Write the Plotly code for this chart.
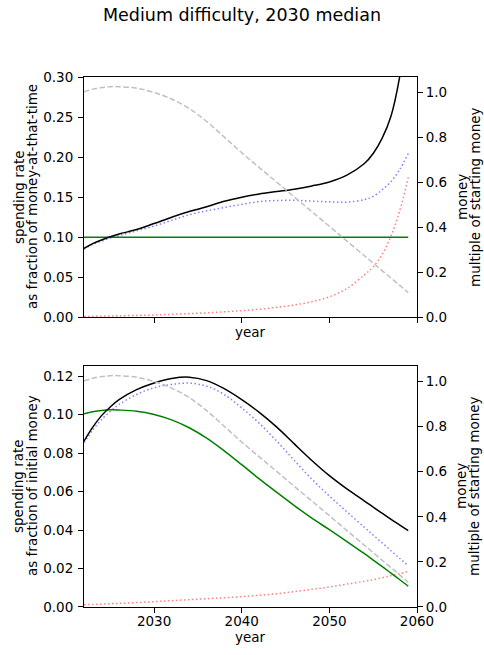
import plotly.graph_objects as go

# sample years shared by every curve
years = [2022, 2023, 2024, 2025, 2026, 2028, 2030, 2032, 2034, 2036, 2038,
         2040, 2042, 2044, 2046, 2048, 2050, 2052, 2054, 2055, 2056, 2057, 2058, 2059]

# top panel: spending rate as fraction of money-at-that-time
rate_total = [0.086, 0.092, 0.0965, 0.1005, 0.104, 0.1095, 0.117, 0.125, 0.132, 0.138, 0.145,
              0.150, 0.154, 0.157, 0.160, 0.164, 0.169, 0.1775, 0.192, 0.2045, 0.223, 0.250, 0.299, 0.381]
rate_blue = [0.085, 0.091, 0.095, 0.099, 0.102, 0.108, 0.114, 0.121, 0.128, 0.133, 0.137,
             0.141, 0.1445, 0.1458, 0.146, 0.145, 0.1442, 0.1438, 0.147, 0.151, 0.159, 0.169, 0.184, 0.2045]
rate_red = [0.001, 0.0012, 0.0014, 0.0016, 0.0019, 0.0024, 0.003, 0.0037, 0.0046, 0.0056, 0.0068,
            0.0083, 0.010, 0.0125, 0.0154, 0.0195, 0.0255, 0.036, 0.053, 0.063, 0.078, 0.1006, 0.132, 0.1746]
green_years = [2022, 2059]
rate_green = [0.1, 0.1]

# money, multiple of starting money (right axis, both panels)
money = [1.003, 1.015, 1.022, 1.026, 1.026, 1.019, 1.000, 0.971, 0.929, 0.871, 0.802,
         0.732, 0.666, 0.601, 0.535, 0.470, 0.405, 0.339, 0.274, 0.241, 0.208, 0.176, 0.143, 0.110]

# bottom panel: spending rate as fraction of initial money
spend_total = [0.0862, 0.0935, 0.0995, 0.104, 0.1078, 0.113, 0.1165, 0.1188, 0.1195, 0.1177, 0.1135,
               0.1078, 0.1012, 0.0935, 0.0848, 0.0762, 0.0683, 0.0614, 0.0551, 0.0519, 0.0488, 0.0457, 0.0427, 0.0397]
spend_blue = [0.0854, 0.092, 0.0975, 0.1017, 0.1053, 0.1105, 0.114, 0.1157, 0.1164, 0.1148, 0.1105,
              0.1035, 0.0955, 0.0862, 0.0762, 0.0665, 0.0577, 0.0495, 0.0414, 0.0374, 0.0334, 0.0294, 0.0254, 0.0215]
spend_red = [0.0012, 0.0013, 0.0015, 0.0017, 0.0019, 0.0023, 0.0028, 0.0033, 0.0038, 0.0043, 0.0048,
             0.0054, 0.0061, 0.0069, 0.008, 0.0092, 0.0104, 0.0119, 0.0134, 0.0142, 0.0152, 0.0162, 0.0173, 0.0185]
spend_green = [0.1004, 0.1015, 0.1022, 0.1025, 0.1024, 0.1018, 0.1001, 0.0973, 0.0932, 0.0878, 0.0812,
               0.0740, 0.0666, 0.0596, 0.0527, 0.0462, 0.0402, 0.0340, 0.0277, 0.0244, 0.0211, 0.0177, 0.0143, 0.0108]

# ticks
year_ticks = [2030, 2040, 2050, 2060]
top_ticks = [0.0, 0.05, 0.10, 0.15, 0.20, 0.25, 0.30]
bottom_ticks = [0.0, 0.02, 0.04, 0.06, 0.08, 0.10, 0.12]
money_ticks = [0.0, 0.2, 0.4, 0.6, 0.8, 1.0]

FONT = "DejaVu Sans"
W, H = 484, 655
L, R, T, B = 84, 67, 77, 48

fig = go.Figure()


def add(x, y, color, dash, xa, ya, width=1.5):
    fig.add_trace(go.Scatter(x=x, y=y, mode="lines", xaxis=xa, yaxis=ya,
                             line=dict(color=color, dash=dash, width=width, shape="spline"),
                             showlegend=False, hoverinfo="skip"))


# top panel
add(years, rate_red, "#ff8080", "1.5px,2.5px", "x", "y")
add(years, rate_blue, "#8080ff", "1.5px,2.5px", "x", "y")
add(green_years, rate_green, "green", "solid", "x", "y")
add(years, rate_total, "black", "solid", "x", "y")
add(years, money, "#c0c0c0", "5.5px,2.5px", "x", "y3")

# bottom panel
add(years, spend_red, "#ff8080", "1.5px,2.5px", "x2", "y2")
add(years, spend_blue, "#8080ff", "1.5px,2.5px", "x2", "y2")
add(years, spend_green, "green", "solid", "x2", "y2")
add(years, spend_total, "black", "solid", "x2", "y2")
add(years, money, "#c0c0c0", "5.5px,2.5px", "x2", "y4")

ax = dict(showline=True, linecolor="black", linewidth=1, mirror=True, showgrid=False,
          zeroline=False, ticks="outside", ticklen=5, tickcolor="black", automargin=False,
          tickfont=dict(size=13.5, color="black"))


# pixel -> paper helpers for the labels
def px(x):
    return (x - L) / (W - L - R)


def py(y):
    return (H - B - y) / (H - T - B)


labels = [
    # text, x px, y px, angle
    ("spending rate", 19, 197, -90),
    ("as fraction of money-at-that-time", 32, 197, -90),
    ("money", 462, 197, -90),
    ("multiple of starting money", 475, 197, -90),
    ("year", 250, 332, 0),
    ("spending rate", 18, 486, -90),
    ("as fraction of initial money", 32, 486, -90),
    ("money", 461, 486, -90),
    ("multiple of starting money", 474, 486, -90),
    ("year", 250, 637, 0),
]
for text, x, y, ang in labels:
    fig.add_annotation(text=text, x=px(x), y=py(y), xref="paper", yref="paper",
                       xanchor="center", yanchor="middle", textangle=ang, showarrow=False,
                       font=dict(size=13.5, color="black"))

fig.update_layout(
    width=W, height=H,
    margin=dict(l=L, r=R, t=T, b=B),
    plot_bgcolor="white", paper_bgcolor="white",
    font=dict(family=FONT, size=13.5, color="black"),
    title=dict(text="Medium difficulty, 2030 median", x=0.5, xanchor="center",
               y=1 - 15 / H, yanchor="middle", font=dict(size=17.5)),
    xaxis=dict(ax, domain=[0, 1], anchor="y", range=[2022, 2060], tickvals=year_ticks,
               showticklabels=False),
    yaxis=dict(ax, domain=[0.5466, 1], anchor="x", range=[0, 0.30], tickvals=top_ticks,
               tickformat=".2f", ticklabelstandoff=2),
    yaxis3=dict(ax, overlaying="y", side="right", anchor="x", range=[0, 1.069],
                tickvals=money_ticks, tickformat=".1f"),
    xaxis2=dict(ax, domain=[0, 1], anchor="y2", range=[2022, 2060], tickvals=year_ticks,
                ticklabelstandoff=-3),
    yaxis2=dict(ax, domain=[0, 0.4547], anchor="x2", range=[0, 0.1253], tickvals=bottom_ticks,
                tickformat=".2f", ticklabelstandoff=2),
    yaxis4=dict(ax, overlaying="y2", side="right", anchor="x2", range=[0, 1.069],
                tickvals=money_ticks, tickformat=".1f"),
)

# drop the browser's default page margin so the figure sits at the window corner
fig.write_html("out.html", config={"displayModeBar": False},
               post_script="document.body.style.margin='0px';")
